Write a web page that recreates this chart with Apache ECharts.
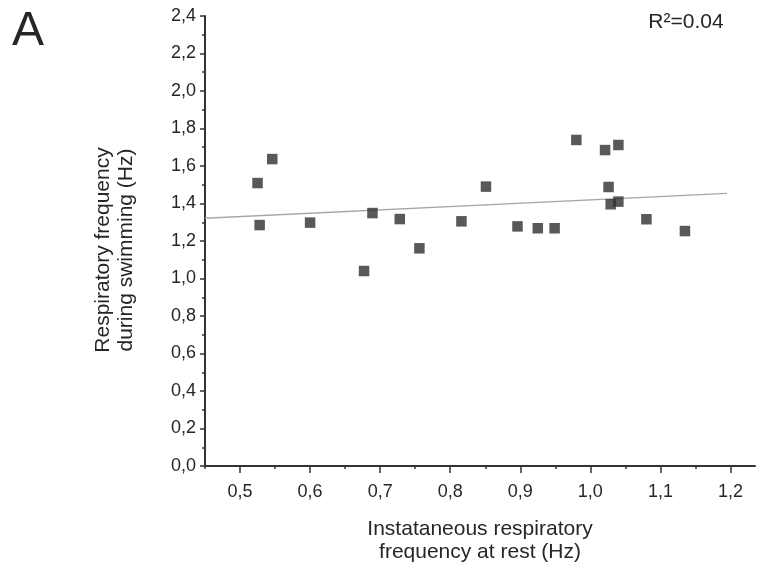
<!DOCTYPE html>
<html>
<head>
<meta charset="utf-8">
<script src="https://cdn.jsdelivr.net/npm/echarts@6/dist/echarts.min.js"></script>
<style>
html,body{margin:0;padding:0;background:#fff;}
#chart{width:760px;height:571px;}
</style>
</head>
<body>
<div id="chart"></div>
<script>
// Data
var restFreq = [0.525, 0.528, 0.546, 0.600, 0.677, 0.689, 0.728, 0.756, 0.816, 0.851, 0.896, 0.925, 0.949, 0.980, 1.021, 1.026, 1.029, 1.040, 1.040, 1.080, 1.135];
var swimFreq = [1.509, 1.285, 1.637, 1.298, 1.040, 1.349, 1.317, 1.161, 1.305, 1.490, 1.278, 1.268, 1.268, 1.739, 1.685, 1.488, 1.396, 1.410, 1.712, 1.316, 1.253];
var fitX = [0.45, 1.195];
var fitY = [1.321, 1.454];
var yTicks = [0, 0.2, 0.4, 0.6, 0.8, 1.0, 1.2, 1.4, 1.6, 1.8, 2.0, 2.2, 2.4];
var xTicks = [0.5, 0.6, 0.7, 0.8, 0.9, 1.0, 1.1, 1.2];
var xMinorTicks = [0.45, 0.55, 0.65, 0.75, 0.85, 0.95, 1.05, 1.15];
var panelLabel = 'A';
var r2Label = 'R\u00b2=0.04';
var xTitle = 'Instataneous respiratory\nfrequency at rest (Hz)';
var yTitle = 'Respiratory frequency\nduring swimming (Hz)';

var points = restFreq.map(function (x, i) { return [x, swimFreq[i]]; });
var fitLine = fitX.map(function (x, i) { return [x, fitY[i]]; });
function fmt(v) { return v.toFixed(1).replace('.', ','); }

var font = '"Liberation Sans", Arial, sans-serif';
var ink = '#262626';
var chart = echarts.init(document.getElementById('chart'), null, {renderer: 'canvas'});
chart.setOption({
  animation: false,
  backgroundColor: '#fff',
  grid: {left: 205, right: 5, top: 16, bottom: 105, containLabel: false},
  xAxis: [{
    type: 'value', min: 0.45, max: 1.235, position: 'bottom',
    splitLine: {show: false},
    axisLine: {show: true, onZero: false, lineStyle: {color: '#333', width: 2}},
    axisTick: {show: true, length: 7, customValues: xTicks, lineStyle: {color: '#333', width: 1.5}},
    axisLabel: {
      margin: 17, color: ink, fontSize: 18, fontFamily: font,
      customValues: xTicks,
      formatter: function (v) { return fmt(v); }
    }
  }, {
    type: 'value', min: 0.45, max: 1.235, position: 'bottom', offset: 0,
    splitLine: {show: false},
    axisLine: {show: false, onZero: false},
    axisTick: {show: true, length: 3, customValues: xMinorTicks, lineStyle: {color: '#333', width: 1.5}},
    axisLabel: {show: false}
  }],
  yAxis: {
    type: 'value', min: 0, max: 2.4, interval: 0.2,
    splitLine: {show: false},
    axisLine: {show: true, onZero: false, lineStyle: {color: '#333', width: 2}},
    axisTick: {show: true, length: 5, lineStyle: {color: '#333', width: 1.5}},
    minorTick: {show: true, splitNumber: 2, length: 3, lineStyle: {color: '#333', width: 1.5}},
    axisLabel: {
      margin: 9, color: ink, fontSize: 18, fontFamily: font,
      formatter: function (v) {
        for (var i = 0; i < yTicks.length; i++) { if (Math.abs(yTicks[i] - v) < 1e-6) return fmt(yTicks[i]); }
        return '';
      }
    }
  },
  series: [
    {
      type: 'line', data: fitLine, symbol: 'none', z: 1,
      lineStyle: {color: '#a8a8a8', width: 1.5}
    },
    {
      type: 'scatter', data: points, symbol: 'rect', symbolSize: 10.5, z: 3,
      itemStyle: {color: '#303030', borderRadius: 1}
    }
  ],
  graphic: [
    {type: 'text', left: 12, top: 8, style: {text: panelLabel, font: '48px ' + font, fill: ink}},
    {type: 'text', x: 686, y: 22, style: {text: r2Label, font: '21px ' + font, fill: ink, align: 'center', verticalAlign: 'middle'}},
    {type: 'text', x: 480, y: 541, style: {text: xTitle, font: '21px ' + font, fill: ink, align: 'center', verticalAlign: 'middle', lineHeight: 23}},
    {type: 'text', x: 115, y: 250, rotation: Math.PI / 2, style: {text: yTitle, font: '21px ' + font, fill: ink, align: 'center', verticalAlign: 'middle', lineHeight: 23}}
  ]
});
</script>
</body>
</html>
